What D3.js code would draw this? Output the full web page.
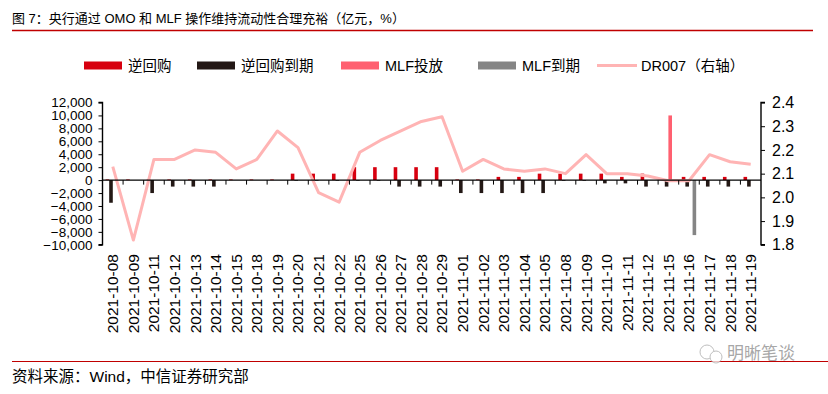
<!DOCTYPE html>
<html>
<head>
<meta charset="utf-8">
<script src="https://cdn.jsdelivr.net/npm/d3@7"></script>
<style>
  body { margin: 0; background: #fff; }
  svg text { font-family: "Liberation Sans", Arial, "Noto Sans CJK SC", sans-serif; fill: #000; }
</style>
</head>
<body>
<svg width="828" height="394"></svg>
<script>
var dates = ['2021-10-08','2021-10-09','2021-10-11','2021-10-12','2021-10-13','2021-10-14','2021-10-15',
  '2021-10-18','2021-10-19','2021-10-20','2021-10-21','2021-10-22','2021-10-25','2021-10-26','2021-10-27',
  '2021-10-28','2021-10-29','2021-11-01','2021-11-02','2021-11-03','2021-11-04','2021-11-05','2021-11-08',
  '2021-11-09','2021-11-10','2021-11-11','2021-11-12','2021-11-15','2021-11-16','2021-11-17','2021-11-18','2021-11-19'];

// 亿元
var repo = [100,100,100,100,100,100,100,100,100,1000,1000,1000,2000,2000,2000,2000,2000,
  100,100,500,500,1000,1000,1000,1000,500,1000,100,500,500,500,500];
var repoDue = [-3500,0,-2000,-1000,-1000,-1000,0,0,0,-100,-100,-100,-100,-100,-1000,-1000,-1000,
  -2000,-2000,-2000,-2000,-2000,-100,-100,-500,-500,-1000,-1000,-1000,-1000,-1000,-1000];
var mlf = [0,0,0,0,0,0,0,0,0,0,0,0,0,0,0,0,0,0,0,0,0,0,0,0,0,0,0,10000,0,0,0,0];
var mlfDue = [0,0,0,0,0,0,0,0,0,0,0,0,0,0,0,0,0,0,0,0,0,0,0,0,0,0,0,0,-8500,0,0,0];
// %
var dr007 = [2.13,1.82,2.16,2.16,2.20,2.19,2.12,2.16,2.28,2.21,2.02,1.98,2.19,2.24,2.28,2.32,2.34,
  2.11,2.16,2.12,2.11,2.12,2.10,2.18,2.10,2.10,2.09,2.07,2.07,2.18,2.15,2.14];

var leftTicks = d3.range(-10000, 12001, 2000);
var rightTicks = [1.8, 1.9, 2.0, 2.1, 2.2, 2.3, 2.4];

var series = [
  {name: '逆回购', values: repo, color: '#D7000F', type: 'bar'},
  {name: '逆回购到期', values: repoDue, color: '#231815', type: 'bar'},
  {name: 'MLF投放', values: mlf, color: '#FF6070', type: 'bar'},
  {name: 'MLF到期', values: mlfDue, color: '#858585', type: 'bar'},
  {name: 'DR007（右轴）', values: dr007, color: '#FFB4B4', type: 'line'}
];

drawChart();

function drawChart() {
  var svg = d3.select('svg');
  var plotLeft = 102.5, plotRight = 761, plotTop = 102.5, plotBottom = 244.8;

  var x = d3.scaleBand().domain(dates).range([plotLeft, plotRight]).padding(0);
  var yL = d3.scaleLinear().domain([-10000, 12000]).range([plotBottom, plotTop]);
  var yR = d3.scaleLinear().domain([1.8, 2.4]).range([plotBottom, plotTop]);
  var barW = 3.6;
  var cx = d => x(d) + x.bandwidth() / 2;

  // title
  svg.append('text')
    .attr('x', 12).attr('y', 23)
    .style('font-size', '13px')
    .text('图 7：央行通过 OMO 和 MLF 操作维持流动性合理充裕（亿元，%）');
  svg.append('line')
    .attr('x1', 12).attr('x2', 813).attr('y1', 30.5).attr('y2', 30.5)
    .attr('stroke', '#C00000').attr('stroke-width', 1.5);

  // legend
  var legendX = [84, 197, 341, 478, 597];
  var legend = svg.append('g').attr('class', 'legend');
  series.forEach((s, i) => {
    var g = legend.append('g').attr('transform', 'translate(' + legendX[i] + ',65.5)');
    if (s.type === 'bar') {
      g.append('rect').attr('x', 0).attr('y', -4).attr('width', 38).attr('height', 8).attr('fill', s.color);
    } else {
      g.append('line').attr('x1', 0).attr('x2', 40).attr('y1', 0).attr('y2', 0)
        .attr('stroke', s.color).attr('stroke-width', 3);
    }
    g.append('text').attr('x', 44).attr('y', 5.5)
      .style('font-size', '14.5px').text(s.name);
  });

  // bars
  series.filter(s => s.type === 'bar').forEach((s, si) => {
    svg.append('g')
      .selectAll('rect')
      .data(s.values.map((v, i) => ({d: dates[i], v: v})).filter(d => d.v !== 0))
      .enter()
      .append('rect')
        .attr('x', d => cx(d.d) + (si - 2) * barW)
        .attr('width', barW)
        .attr('y', d => yL(Math.max(0, d.v)))
        .attr('height', d => Math.abs(yL(d.v) - yL(0)))
        .attr('fill', s.color);
  });

  // DR007 line
  var line = d3.line()
    .x((d, i) => cx(dates[i]))
    .y(d => yR(d));
  svg.append('path')
    .datum(dr007)
    .attr('d', line)
    .attr('fill', 'none')
    .attr('stroke', '#FFB4B4')
    .attr('stroke-width', 3)
    .attr('stroke-linejoin', 'round');

  // zero axis with category ticks
  var zeroY = yL(0);
  svg.append('line')
    .attr('x1', plotLeft).attr('x2', plotRight).attr('y1', zeroY).attr('y2', zeroY)
    .attr('stroke', '#000').attr('stroke-width', 1.4);
  svg.append('g')
    .selectAll('line')
    .data(dates.slice(1))
    .enter()
    .append('line')
      .attr('x1', d => x(d)).attr('x2', d => x(d))
      .attr('y1', zeroY).attr('y2', zeroY + 4.5)
      .attr('stroke', '#000').attr('stroke-width', 1);

  svg.append('g')
    .selectAll('text')
    .data(dates)
    .enter()
    .append('text')
      .attr('transform', d => 'translate(' + cx(d) + ',254) rotate(-90)')
      .attr('text-anchor', 'end')
      .attr('dy', '0.35em')
      .style('font-size', '15.5px')
      .text(d => d);

  // left axis
  var leftAxis = d3.axisLeft(yL)
    .tickValues(leftTicks)
    .tickSize(4)
    .tickPadding(6)
    .tickFormat(d3.format(','));
  svg.append('g')
    .attr('transform', 'translate(' + plotLeft + ',0)')
    .call(leftAxis)
    .call(g => g.select('.domain').attr('d', 'M-4,' + plotTop + 'H0V' + plotBottom + 'H-4').attr('stroke-width', 1.4))
    .call(g => g.selectAll('text').style('font-size', '13.5px').style('font-family', '"Liberation Sans", Arial, sans-serif'));

  // right axis
  var rightAxis = d3.axisRight(yR)
    .tickValues(rightTicks)
    .tickSize(4)
    .tickPadding(7)
    .tickFormat(d3.format('.1f'));
  svg.append('g')
    .attr('transform', 'translate(' + plotRight + ',0)')
    .call(rightAxis)
    .call(g => g.select('.domain').attr('d', 'M4,' + plotTop + 'H0V' + plotBottom + 'H4').attr('stroke-width', 1.4))
    .call(g => g.selectAll('text').style('font-size', '16px').style('font-family', '"Liberation Sans", Arial, sans-serif'));

  // footer
  svg.append('line')
    .attr('x1', 12).attr('x2', 828).attr('y1', 361.5).attr('y2', 361.5)
    .attr('stroke', '#C00000').attr('stroke-width', 1.2);
  svg.append('text')
    .attr('x', 12).attr('y', 382)
    .style('font-size', '15.5px')
    .text('资料来源：Wind，中信证券研究部');
  var mark = svg.append('g').attr('opacity', 0.75);
  mark.append('circle').attr('cx', 707).attr('cy', 352).attr('r', 7)
    .attr('fill', '#fff').attr('stroke', '#aaa').attr('stroke-width', 1);
  mark.append('circle').attr('cx', 716).attr('cy', 357).attr('r', 6)
    .attr('fill', '#fff').attr('stroke', '#aaa').attr('stroke-width', 1);
  mark.append('text')
    .attr('x', 727).attr('y', 359)
    .style('font-size', '17px')
    .style('fill', '#8a8a8a')
    .text('明晰笔谈');
}
</script>
</body>
</html>
